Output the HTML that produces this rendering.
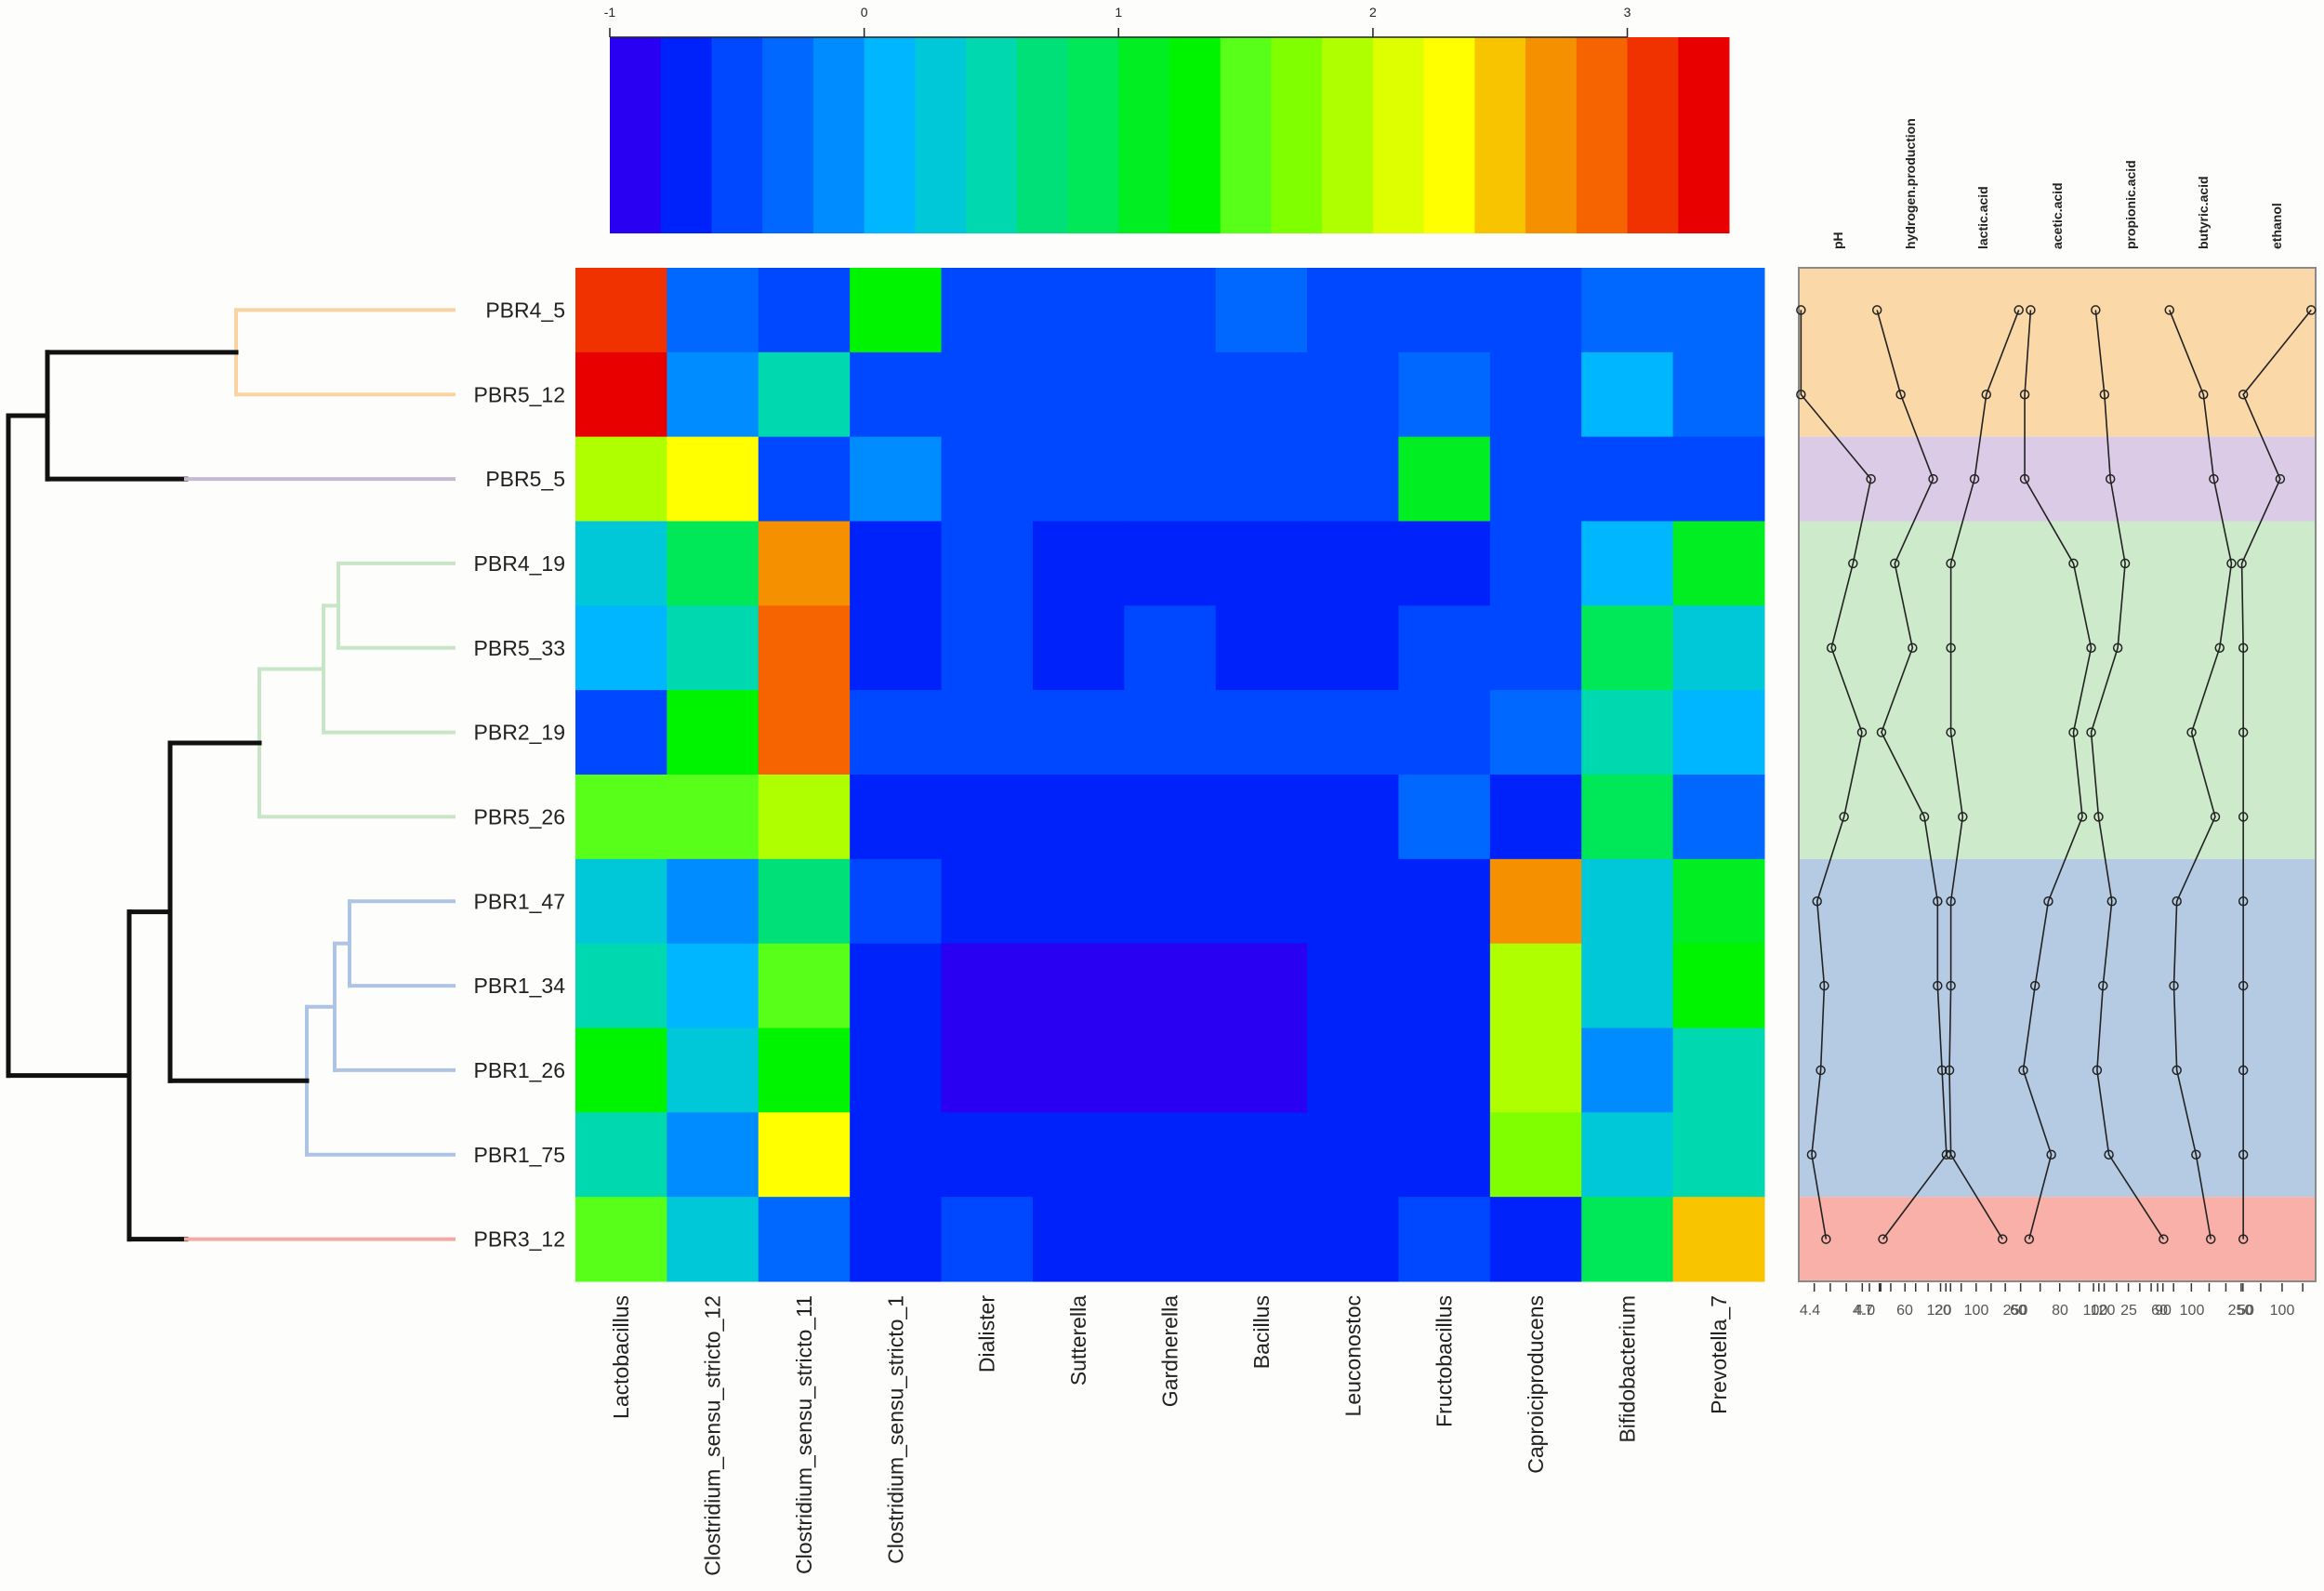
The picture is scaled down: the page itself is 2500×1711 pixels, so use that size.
<!DOCTYPE html>
<html><head><meta charset="utf-8">
<style>
html,body{margin:0;padding:0;background:#fdfdfc;}
svg{display:block;font-family:"Liberation Sans",sans-serif;}
</style></head>
<body>
<svg id="chart" width="2500" height="1711" viewBox="0 0 2500 1711" xmlns="http://www.w3.org/2000/svg">
<rect x="0" y="0" width="2500" height="1711" fill="#fdfdfc"/>
<g id="dendro"></g>
<g id="cbar"></g>
<g id="heat"></g>
<g id="panel"></g>
</svg>
<script>
const samples = ["PBR4_5","PBR5_12","PBR5_5","PBR4_19","PBR5_33","PBR2_19","PBR5_26","PBR1_47","PBR1_34","PBR1_26","PBR1_75","PBR3_12"];
const genera = ["Lactobacillus","Clostridium_sensu_stricto_12","Clostridium_sensu_stricto_11","Clostridium_sensu_stricto_1","Dialister","Sutterella","Gardnerella","Bacillus","Leuconostoc","Fructobacillus","Caproiciproducens","Bifidobacterium","Prevotella_7"];
const values = [
 [3.1,-0.3,-0.5,1.3,-0.5,-0.5,-0.5,-0.3,-0.5,-0.5,-0.5,-0.3,-0.3],
 [3.3,-0.1,0.5,-0.5,-0.5,-0.5,-0.5,-0.5,-0.5,-0.3,-0.5,0.1,-0.3],
 [1.9,2.3,-0.5,-0.1,-0.5,-0.5,-0.5,-0.5,-0.5,1.1,-0.5,-0.5,-0.5],
 [0.3,0.9,2.7,-0.7,-0.5,-0.7,-0.7,-0.7,-0.7,-0.7,-0.5,0.1,1.1],
 [0.1,0.5,2.9,-0.7,-0.5,-0.7,-0.5,-0.7,-0.7,-0.5,-0.5,0.9,0.3],
 [-0.5,1.3,2.9,-0.5,-0.5,-0.5,-0.5,-0.5,-0.5,-0.5,-0.3,0.5,0.1],
 [1.5,1.5,1.9,-0.7,-0.7,-0.7,-0.7,-0.7,-0.7,-0.3,-0.7,0.9,-0.3],
 [0.3,-0.1,0.7,-0.5,-0.7,-0.7,-0.7,-0.7,-0.7,-0.7,2.7,0.3,1.1],
 [0.5,0.1,1.5,-0.7,-0.9,-0.9,-0.9,-0.9,-0.7,-0.7,1.9,0.3,1.3],
 [1.3,0.3,1.3,-0.7,-0.9,-0.9,-0.9,-0.9,-0.7,-0.7,1.9,-0.1,0.5],
 [0.5,-0.1,2.3,-0.7,-0.7,-0.7,-0.7,-0.7,-0.7,-0.7,1.7,0.3,0.5],
 [1.5,0.3,-0.3,-0.7,-0.5,-0.7,-0.7,-0.7,-0.7,-0.5,-0.7,0.9,2.5]
];
const keyTicks = [-1,0,1,2,3];
const palette = ["#2a00f2","#0022fa","#0048ff","#0068ff","#008cff","#00b6ff","#00c8d8","#00d8b0","#00e078","#00e858","#00ee22","#00f400","#58ff18","#80ff00","#b0ff00","#deff00","#ffff00","#f8c400","#f59000","#f56400","#f03200","#e80000"];
const pH = [4.35,4.35,4.74,4.64,4.52,4.69,4.59,4.44,4.48,4.46,4.41,4.49];
const hydrogen = [53,69,91,65,77,56,85,94,94,97,100,57];
const lactic = [149,127,119,103,103,103,111,103,103,102,103,138];
const acetic = [157,153,153,186,198,186,192,169,160,152,171,156];
const propionic = [201,207,211,221,216,198,203,212,206,202,210,247];
const butyric = [251,274,281,293,285,266,282,256,254,256,269,279];
const ethanol = [347,301,326,300,301,301,301,301,301,301,301,301];
const varNames = ["pH","hydrogen.production","lactic.acid","acetic.acid","propionic.acid","butyric.acid","ethanol"];
const bottomLabels = ["4.4","4.7","4.0","60","120","20","100","250","60","80","100","120","25","60","90","100","250","50","100"];
const bottomLabelPos = [4.4,4.7,4.7,60,120,120,100,250,60,80,100,120,25,60,90,100,250,50,100];

const NS="http://www.w3.org/2000/svg";
function mk(tag,attrs,parent){const e=document.createElementNS(NS,tag);for(const k in attrs)e.setAttribute(k,attrs[k]);parent.appendChild(e);return e;}

// geometry
const HX0=619,HX1=1898,HY0=288,HY1=1378;
const cw=(HX1-HX0)/genera.length, rh=(HY1-HY0)/samples.length;
const rowY=i=>HY0+rh*(i+0.5);
const colX=j=>HX0+cw*j;
const KX0=656,KX1=1860,KMIN=-1,KMAX=3.4;
const keyX=v=>KX0+(v-KMIN)/(KMAX-KMIN)*(KX1-KX0);
function colorOf(v){let k=Math.floor((v-KMIN)/0.2);k=Math.max(0,Math.min(palette.length-1,k));return palette[k];}

// color key
const cb=document.getElementById('cbar');
palette.forEach((c,k)=>{
  const r=mk('rect',{x:keyX(KMIN+k*0.2),y:40,width:keyX(KMIN+(k+1)*0.2)-keyX(KMIN+k*0.2)+0.5,height:211,fill:c},cb);
  
  
});
mk('line',{x1:keyX(-1),y1:40,x2:keyX(3),y2:40,stroke:'#222','stroke-width':1.5},cb);
keyTicks.forEach(t=>{
  mk('line',{x1:keyX(t),y1:30,x2:keyX(t),y2:40,stroke:'#222','stroke-width':1.5},cb);
  const tx=mk('text',{x:keyX(t),y:18,'font-size':14,'text-anchor':'middle',fill:'#222'},cb);
  tx.textContent=t;
  
  
});

// heatmap
const hg=document.getElementById('heat');
values.forEach((row,i)=>row.forEach((v,j)=>{
  const r=mk('rect',{x:colX(j),y:HY0+rh*i,width:cw+0.5,height:rh+0.5,fill:colorOf(v)},hg);
  
  
}));
samples.forEach((s,i)=>{
  const t=mk('text',{x:608,y:rowY(i)+8,'font-size':23,'text-anchor':'end',fill:'#222'},hg);
  t.textContent=s;
  
  
});
genera.forEach((g,j)=>{
  const x=colX(j)+cw/2+8;
  const t=mk('text',{x:x,y:1393,'font-size':23,'text-anchor':'end',fill:'#222',transform:`rotate(-90 ${x} 1393)`},hg);
  t.textContent=g;
  
  
});

// dendrogram
const dg=document.getElementById('dendro');
function seg(x1,y1,x2,y2,c,w){const l=mk('line',{x1,y1,x2,y2,stroke:c,'stroke-width':w,'stroke-linecap':'square'},dg);}
const OR='#fbd3a3',PU='#c4b8d4',GR='#c8e6c6',BL='#adc4e4',RD='#f4aaa4',BK='#111';
const LE=488;
// orange
seg(254,rowY(0),LE,rowY(0),OR,4);seg(254,rowY(1),LE,rowY(1),OR,4);seg(254,rowY(0),254,rowY(1),OR,4);
const mO=(rowY(0)+rowY(1))/2;
seg(51,mO,254,mO,BK,5);
seg(51,rowY(2),200,rowY(2),BK,5);seg(200,rowY(2),LE,rowY(2),PU,4);
seg(51,mO,51,rowY(2),BK,5);
const mTop=(mO+rowY(2))/2;
// green
seg(364,rowY(3),LE,rowY(3),GR,4);seg(364,rowY(4),LE,rowY(4),GR,4);seg(364,rowY(3),364,rowY(4),GR,4);
const g1=(rowY(3)+rowY(4))/2;
seg(348,g1,364,g1,GR,4);seg(348,rowY(5),LE,rowY(5),GR,4);seg(348,g1,348,rowY(5),GR,4);
const g2=(g1+rowY(5))/2;
seg(279,g2,348,g2,GR,4);seg(279,rowY(6),LE,rowY(6),GR,4);seg(279,g2,279,rowY(6),GR,4);
const g3=(g2+rowY(6))/2;
// blue
seg(376,rowY(7),LE,rowY(7),BL,4);seg(376,rowY(8),LE,rowY(8),BL,4);seg(376,rowY(7),376,rowY(8),BL,4);
const b1=(rowY(7)+rowY(8))/2;
seg(360,b1,376,b1,BL,4);seg(360,rowY(9),LE,rowY(9),BL,4);seg(360,b1,360,rowY(9),BL,4);
const b2=(b1+rowY(9))/2;
seg(330,b2,360,b2,BL,4);seg(330,rowY(10),LE,rowY(10),BL,4);seg(330,b2,330,rowY(10),BL,4);
const b3=(b2+rowY(10))/2;
seg(183,g3,279,g3,BK,5);seg(183,b3,330,b3,BK,5);seg(183,g3,183,b3,BK,5);
const m2=(g3+b3)/2;
seg(139,m2,183,m2,BK,5);seg(139,rowY(11),200,rowY(11),BK,5);seg(200,rowY(11),LE,rowY(11),RD,4);seg(139,m2,139,rowY(11),BK,5);
const m3=(m2+rowY(11))/2;
seg(9,mTop,51,mTop,BK,5);seg(9,m3,139,m3,BK,5);seg(9,mTop,9,m3,BK,5);

// side panel
const pg=document.getElementById('panel');
const PX0=1935,PX1=2491;
const bands=[[0,2,'#fbd8a8'],[2,3,'#dccbe6'],[3,7,'#cdeacb'],[7,11,'#b5cbe4'],[11,12,'#f8b0a8']];
bands.forEach(b=>{
  const r=mk('rect',{x:PX0,y:HY0+rh*b[0],width:PX1-PX0,height:rh*(b[1]-b[0]),fill:b[2]},pg);
  
  
});
mk('rect',{x:PX0,y:HY0,width:PX1-PX0,height:HY1-HY0,fill:'none',stroke:'#8a8a8a','stroke-width':2},pg);
const unitX=v=>PX0+v*(PX1-PX0)/350;
const pHX=v=>1947+(v-4.4)*193;
const series=[[pH,pHX],[hydrogen,unitX],[lactic,unitX],[acetic,unitX],[propionic,unitX],[butyric,unitX],[ethanol,unitX]];
series.forEach((s,k)=>{
  const pts=s[0].map((v,i)=>s[1](v)+','+rowY(i)).join(' ');
  const pl=mk('polyline',{points:pts,fill:'none',stroke:'#222','stroke-width':1.6},pg);
  
  
  s[0].forEach((v,i)=>{
    const c=mk('circle',{cx:s[1](v),cy:rowY(i),r:4.5,fill:'none',stroke:'#222','stroke-width':1.5},pg);
    
    
  });
});
const headX=[1977,2055,2133,2213,2292,2370,2449];
varNames.forEach((n,k)=>{
  const t=mk('text',{x:headX[k]+5,y:268,'font-size':14,'font-weight':'bold','text-anchor':'start',fill:'#222',transform:`rotate(-90 ${headX[k]+5} 268)`},pg);
  t.textContent=n;
  
  
});
// bottom axis ticks
const tickZ=[135,180,225,270,290,318,322,350,390,420,455,490,505,518,548,590,632,672,715,770,825,880,920,935,950,985,1018,1050,1082,1100,1115,1145,1195,1245,1292,1335,1340,1390,1450,1508];
tickZ.forEach(z=>{const x=1900+z/2.613;mk('line',{x1:x,y1:1380,x2:x,y2:1389,stroke:'#333','stroke-width':1.5},pg);});
const labXs=[1947,2004,2006,2049,2086,2090,2126,2168,2171,2216,2254,2262,2290,2323,2327,2358,2410,2416,2455];
bottomLabels.forEach((l,k)=>{
  const t=mk('text',{x:labXs[k],y:1414,'font-size':16,'text-anchor':'middle',fill:'#555'},pg);
  t.textContent=l;
  
  
});
</script>
</body></html>
